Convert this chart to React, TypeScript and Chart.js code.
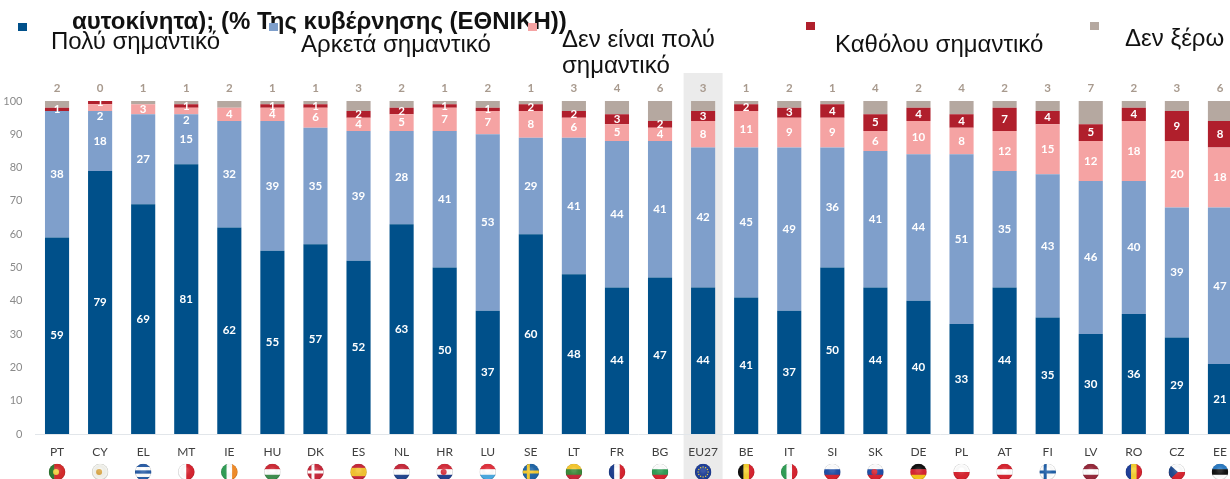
import React, { useEffect, useRef } from "react";
import { Chart, registerables } from "chart.js";

Chart.register(...registerables);

const categories = ["PT","CY","EL","MT","IE","HU","DK","ES","NL","HR","LU","SE","LT","FR","BG","EU27","BE","IT","SI","SK","DE","PL","AT","FI","LV","RO","CZ","EE"];
const veryImportant = [59,79,69,81,62,55,57,52,63,50,37,60,48,44,47,44,41,37,50,44,40,33,44,35,30,36,29,21];
const fairlyImportant = [38,18,27,15,32,39,35,39,28,41,53,29,41,44,41,42,45,49,36,41,44,51,35,43,46,40,39,47];
const notVeryImportant = [0,2,3,2,4,4,6,4,5,7,7,8,6,5,4,8,11,9,9,6,10,8,12,15,12,18,20,18];
const notAtAllImportant = [1,1,0,1,0,1,1,2,2,1,1,2,2,3,2,3,2,3,4,5,4,4,7,4,5,4,9,8];
const dontKnow = [2,0,1,1,2,1,1,3,2,1,2,1,3,4,6,3,1,2,1,4,2,4,2,3,7,2,3,6];

const seriesNames = ["Πολύ σημαντικό","Αρκετά σημαντικό","Δεν είναι πολύ σημαντικό","Καθόλου σημαντικό","Δεν ξέρω"];
const seriesColors = ["#00508a","#7f9fcb","#f5a3a3","#b01f2c","#b5a8a0"];
const titleText = "αυτοκίνητα); (% Της κυβέρνησης (ΕΘΝΙΚΗ))";

type Flag = { d: "h" | "v"; c: string[]; cross?: string; dot?: string; tri?: string; ring?: string };
const flags: Flag[] = [
  { d: "v", c: ["#2e7d32","#d62b2b","#d62b2b"], dot: "#f2d13c" },
  { d: "h", c: ["#f4f4ee"], dot: "#d9a441" },
  { d: "h", c: ["#2a5ea8","#ffffff","#2a5ea8","#ffffff","#2a5ea8"] },
  { d: "v", c: ["#ffffff","#d8232f"] },
  { d: "v", c: ["#2f9e55","#ffffff","#f28c28"] },
  { d: "h", c: ["#cf2a36","#ffffff","#3f8f4f"] },
  { d: "h", c: ["#c8283a"], cross: "#ffffff" },
  { d: "h", c: ["#c8283a","#f4c430","#f4c430","#c8283a"] },
  { d: "h", c: ["#c8283a","#ffffff","#24468f"] },
  { d: "h", c: ["#d52b3a","#ffffff","#23408f"], dot: "#d52b3a" },
  { d: "h", c: ["#e2303c","#ffffff","#4ba9e1"] },
  { d: "h", c: ["#1f66a8"], cross: "#f6cb2f" },
  { d: "h", c: ["#f7c82e","#3c8b3a","#c8283a"] },
  { d: "v", c: ["#1d3f8f","#ffffff","#d8232f"] },
  { d: "h", c: ["#ffffff","#2f9e55","#d8232f"] },
  { d: "h", c: ["#1f3f9a"], ring: "#e9d13c" },
  { d: "v", c: ["#111111","#f5d130","#d8232f"] },
  { d: "v", c: ["#2f9e55","#ffffff","#d8232f"] },
  { d: "h", c: ["#ffffff","#1f4fa8","#d8232f"] },
  { d: "h", c: ["#ffffff","#1f4fa8","#d8232f"], dot: "#d8232f" },
  { d: "h", c: ["#111111","#d8232f","#f5c518"] },
  { d: "h", c: ["#ffffff","#d8232f"] },
  { d: "h", c: ["#d8232f","#ffffff","#d8232f"] },
  { d: "h", c: ["#ffffff"], cross: "#1f5fa8" },
  { d: "h", c: ["#96283a","#ffffff","#96283a"] },
  { d: "v", c: ["#1f3f9a","#f5d130","#d8232f"] },
  { d: "h", c: ["#ffffff","#d8232f"], tri: "#1f4a8f" },
  { d: "h", c: ["#2c7cc4","#111111","#ffffff"] },
];

const FONT = "Lato, 'Open Sans', sans-serif";
const HIGHLIGHT = "EU27";

const decor = {
  id: "decor",
  beforeDraw(chart: any) {
    const { ctx, scales } = chart;
    const x = scales.x.getPixelForValue(categories.indexOf(HIGHLIGHT));
    ctx.save();
    ctx.fillStyle = "#ebebeb";
    ctx.fillRect(x - 19.5, 73, 39, chart.height - 73);
    ctx.restore();
  },
  afterDraw(chart: any) {
    const { ctx, scales } = chart;
    ctx.save();
    ctx.textAlign = "center";
    ctx.textBaseline = "middle";
    chart.data.datasets.forEach((ds: any, i: number) => {
      const meta = chart.getDatasetMeta(i);
      ds.data.forEach((v: number, j: number) => {
        const bar = meta.data[j];
        if (i === 4) {
          ctx.font = `bold 11.5px ${FONT}`;
          ctx.fillStyle = "#a89a8e";
          ctx.fillText(String(v), bar.x, 88);
        } else if (v > 0) {
          ctx.font = `bold 11.5px ${FONT}`;
          ctx.fillStyle = "#ffffff";
          // a value too thin for its pink band is pushed below it, clear of the red label
          const nudge = i === 2 && v <= 2 ? 9 : 0;
          ctx.fillText(String(v), bar.x, (bar.y + bar.base) / 2 + nudge);
        }
      });
    });
    const r = 8.3;
    const cy = 472;
    flags.forEach((f, i) => {
      const cx = scales.x.getPixelForValue(i);
      ctx.save();
      ctx.beginPath();
      ctx.arc(cx, cy, r, 0, Math.PI * 2);
      ctx.clip();
      const n = f.c.length;
      f.c.forEach((col, k) => {
        ctx.fillStyle = col;
        if (f.d === "h") ctx.fillRect(cx - r, cy - r + (k * 2 * r) / n, 2 * r, (2 * r) / n + 0.5);
        else ctx.fillRect(cx - r + (k * 2 * r) / n, cy - r, (2 * r) / n + 0.5, 2 * r);
      });
      if (f.cross) {
        ctx.fillStyle = f.cross;
        ctx.fillRect(cx - 4, cy - r, 3, 2 * r);
        ctx.fillRect(cx - r, cy - 1.5, 2 * r, 3);
      }
      if (f.tri) {
        ctx.fillStyle = f.tri;
        ctx.beginPath();
        ctx.moveTo(cx - r, cy - r);
        ctx.lineTo(cx + 1, cy);
        ctx.lineTo(cx - r, cy + r);
        ctx.fill();
      }
      if (f.dot) {
        ctx.fillStyle = f.dot;
        ctx.beginPath();
        ctx.arc(cx - 1, cy, 3, 0, Math.PI * 2);
        ctx.fill();
      }
      if (f.ring) {
        ctx.fillStyle = f.ring;
        for (let k = 0; k < 12; k++) {
          const a = (k * Math.PI) / 6;
          ctx.fillRect(cx + Math.cos(a) * 5 - 0.6, cy + Math.sin(a) * 5 - 0.6, 1.2, 1.2);
        }
      }
      const g = ctx.createRadialGradient(cx, cy - 2, 2, cx, cy, r);
      g.addColorStop(0, "rgba(255,255,255,0.12)");
      g.addColorStop(0.8, "rgba(0,0,0,0)");
      g.addColorStop(1, "rgba(0,0,0,0.22)");
      ctx.fillStyle = g;
      ctx.fillRect(cx - r, cy - r, 2 * r, 2 * r);
      ctx.restore();
    });
    ctx.restore();
  },
};

const legendItems = [
  { sq: [18, 23], text: [seriesNames[0]], x: 51, y: 28, w: 210 },
  { sq: [269, 23], text: [seriesNames[1]], x: 301, y: 31, w: 220 },
  { sq: [528, 23], text: ["Δεν είναι πολύ", "σημαντικό"], x: 562, y: 26, w: 200 },
  { sq: [806, 22], text: [seriesNames[3]], x: 835, y: 31, w: 240 },
  { sq: [1090, 22], text: [seriesNames[4]], x: 1125, y: 25, w: 105 },
];

export default function App() {
  const ref = useRef<HTMLCanvasElement>(null);
  useEffect(() => {
    const values = [veryImportant, fairlyImportant, notVeryImportant, notAtAllImportant, dontKnow];
    const chart = new Chart(ref.current!, {
      type: "bar",
      data: {
        labels: categories,
        datasets: values.map((data, i) => ({
          label: seriesNames[i],
          data,
          backgroundColor: seriesColors[i],
          barPercentage: 0.56,
          categoryPercentage: 1,
        })),
      },
      options: {
        animation: false,
        responsive: false,
        layout: { padding: { top: 101, right: 18.5, bottom: 0, left: 0 } },
        plugins: { legend: { display: false }, title: { display: false }, tooltip: { enabled: false } },
        scales: {
          x: {
            stacked: true,
            grid: { display: false, drawTicks: false },
            border: { color: "#e2e6ea" },
            ticks: { autoSkip: false, maxRotation: 0, padding: 11, color: "#404040", font: { family: FONT, size: 12 } },
            afterFit(s: any) { s.height = 45; },
          },
          y: {
            stacked: true,
            min: 0,
            max: 100,
            grid: { display: false, drawTicks: false },
            border: { display: false },
            ticks: { stepSize: 10, padding: 13, color: "#8a8a8a", font: { family: FONT, size: 11 } },
            afterFit(s: any) { s.width = 35.5; },
          },
        },
      },
      plugins: [decor],
    });
    return () => chart.destroy();
  }, []);

  return (
    <div style={{ position: "fixed", left: 0, top: 0, width: 1230, height: 479, overflow: "hidden", background: "#fff", fontFamily: "'Liberation Sans', Arial, sans-serif", color: "#111" }}>
      <canvas ref={ref} width={1260} height={479} style={{ position: "absolute", left: 0, top: 0, display: "block" }} />
      <div style={{ position: "absolute", left: 72, top: 8, fontWeight: 700, fontSize: 24, lineHeight: "26px", whiteSpace: "nowrap" }}>{titleText}</div>
      {legendItems.map((it, i) => (
        <React.Fragment key={i}>
          <div style={{ position: "absolute", left: it.sq[0], top: it.sq[1], width: 9, height: 8, background: seriesColors[i] }} />
          <div style={{ position: "absolute", left: it.x, top: it.y, width: it.w, fontSize: 24, lineHeight: "26px", whiteSpace: "nowrap" }}>
            {it.text.map((t) => <div key={t}>{t}</div>)}
          </div>
        </React.Fragment>
      ))}
    </div>
  );
}
